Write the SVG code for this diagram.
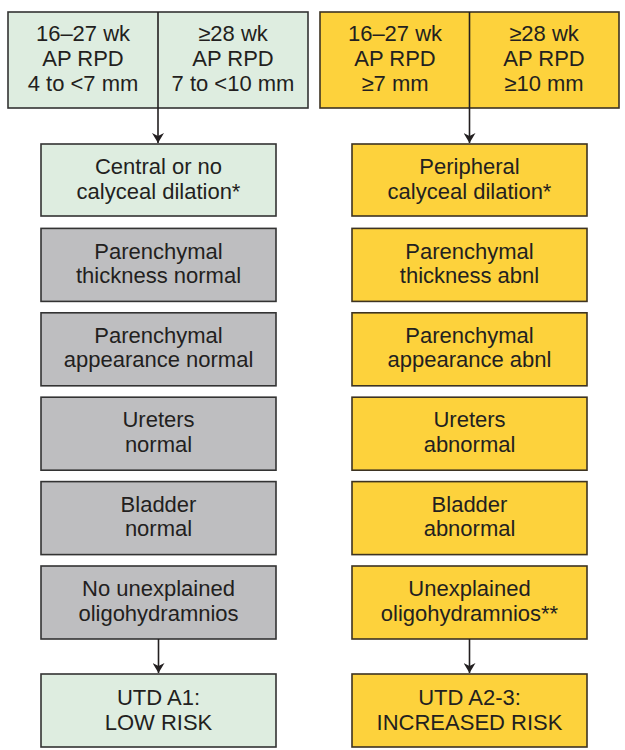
<svg xmlns="http://www.w3.org/2000/svg" width="625" height="750" viewBox="0 0 625 750">
<style>
text{font-family:"Liberation Sans",Arial,sans-serif;font-size:22px;fill:#231f20;text-anchor:middle}
.g{fill:#deede0;stroke:#333;stroke-width:1.6}
.n{fill:#bebec0;stroke:#333;stroke-width:1.6}
.y{fill:#fdd23c;stroke:#3d3322;stroke-width:1.6}
.c{stroke:#231f20;stroke-width:1.6;fill:none}
</style>
<defs>
<marker id="ah" viewBox="0 0 10 12" refX="10" refY="6" markerWidth="10" markerHeight="12" markerUnits="userSpaceOnUse" orient="auto">
<path d="M0,0 L10,6 L0,12 L3,6 Z" fill="#231f20"/>
</marker>
</defs>
<rect width="625" height="750" fill="#fff"/>
<g id="L0"><rect class="g" x="8" y="12" width="300" height="96"/><line class="c" x1="158" y1="12" x2="158" y2="108"/>
<text x="83" y="41">16–27 wk</text><text x="83" y="65.5">AP RPD</text><text x="83" y="90.5">4 to &lt;7 mm</text>
<text x="233" y="41">≥28 wk</text><text x="233" y="65.5">AP RPD</text><text x="233" y="90.5">7 to &lt;10 mm</text></g>
<g id="R0"><rect class="y" x="320" y="12" width="299" height="96"/><line class="c" x1="469.5" y1="12" x2="469.5" y2="108"/>
<text x="395" y="41">16–27 wk</text><text x="395" y="65.5">AP RPD</text><text x="395" y="90.5">≥7 mm</text>
<text x="544" y="41">≥28 wk</text><text x="544" y="65.5">AP RPD</text><text x="544" y="90.5">≥10 mm</text></g>
<g id="L1"><rect class="g" x="41" y="144" width="235" height="72"/><text x="158.5" y="174">Central or no</text><text x="158.5" y="198.5">calyceal dilation*</text></g>
<g id="L2"><rect class="n" x="41" y="228.4" width="235" height="73"/><text x="158.5" y="258.5">Parenchymal</text><text x="158.5" y="283">thickness normal</text></g>
<g id="L3"><rect class="n" x="41" y="312.8" width="235" height="73"/><text x="158.5" y="342.9">Parenchymal</text><text x="158.5" y="367.4">appearance normal</text></g>
<g id="L4"><rect class="n" x="41" y="397.2" width="235" height="73"/><text x="158.5" y="427.3">Ureters</text><text x="158.5" y="451.8">normal</text></g>
<g id="L5"><rect class="n" x="41" y="481.6" width="235" height="73"/><text x="158.5" y="511.7">Bladder</text><text x="158.5" y="536.2">normal</text></g>
<g id="L6"><rect class="n" x="41" y="566" width="235" height="73"/><text x="158.5" y="596">No unexplained</text><text x="158.5" y="620.5">oligohydramnios</text></g>
<g id="L7"><rect class="g" x="41" y="674" width="235" height="73"/><text x="158.5" y="705">UTD A1:</text><text x="158.5" y="729.5">LOW RISK</text></g>
<g id="R1"><rect class="y" x="352" y="144" width="235" height="72"/><text x="469.5" y="174">Peripheral</text><text x="469.5" y="198.5">calyceal dilation*</text></g>
<g id="R2"><rect class="y" x="352" y="228.4" width="235" height="73"/><text x="469.5" y="258.5">Parenchymal</text><text x="469.5" y="283">thickness abnl</text></g>
<g id="R3"><rect class="y" x="352" y="312.8" width="235" height="73"/><text x="469.5" y="342.9">Parenchymal</text><text x="469.5" y="367.4">appearance abnl</text></g>
<g id="R4"><rect class="y" x="352" y="397.2" width="235" height="73"/><text x="469.5" y="427.3">Ureters</text><text x="469.5" y="451.8">abnormal</text></g>
<g id="R5"><rect class="y" x="352" y="481.6" width="235" height="73"/><text x="469.5" y="511.7">Bladder</text><text x="469.5" y="536.2">abnormal</text></g>
<g id="R6"><rect class="y" x="352" y="566" width="235" height="73"/><text x="469.5" y="596">Unexplained</text><text x="469.5" y="620.5">oligohydramnios**</text></g>
<g id="R7"><rect class="y" x="352" y="674" width="235" height="73"/><text x="469.5" y="705">UTD A2-3:</text><text x="469.5" y="729.5">INCREASED RISK</text></g>
<g id="connectors">
<line class="c" x1="158" y1="108" x2="158" y2="143" marker-end="url(#ah)"/>
<line class="c" x1="469.5" y1="108" x2="469.5" y2="143" marker-end="url(#ah)"/>
<line class="c" x1="158.5" y1="639" x2="158.5" y2="673" marker-end="url(#ah)"/>
<line class="c" x1="469.5" y1="639" x2="469.5" y2="673" marker-end="url(#ah)"/>
</g>
</svg>
